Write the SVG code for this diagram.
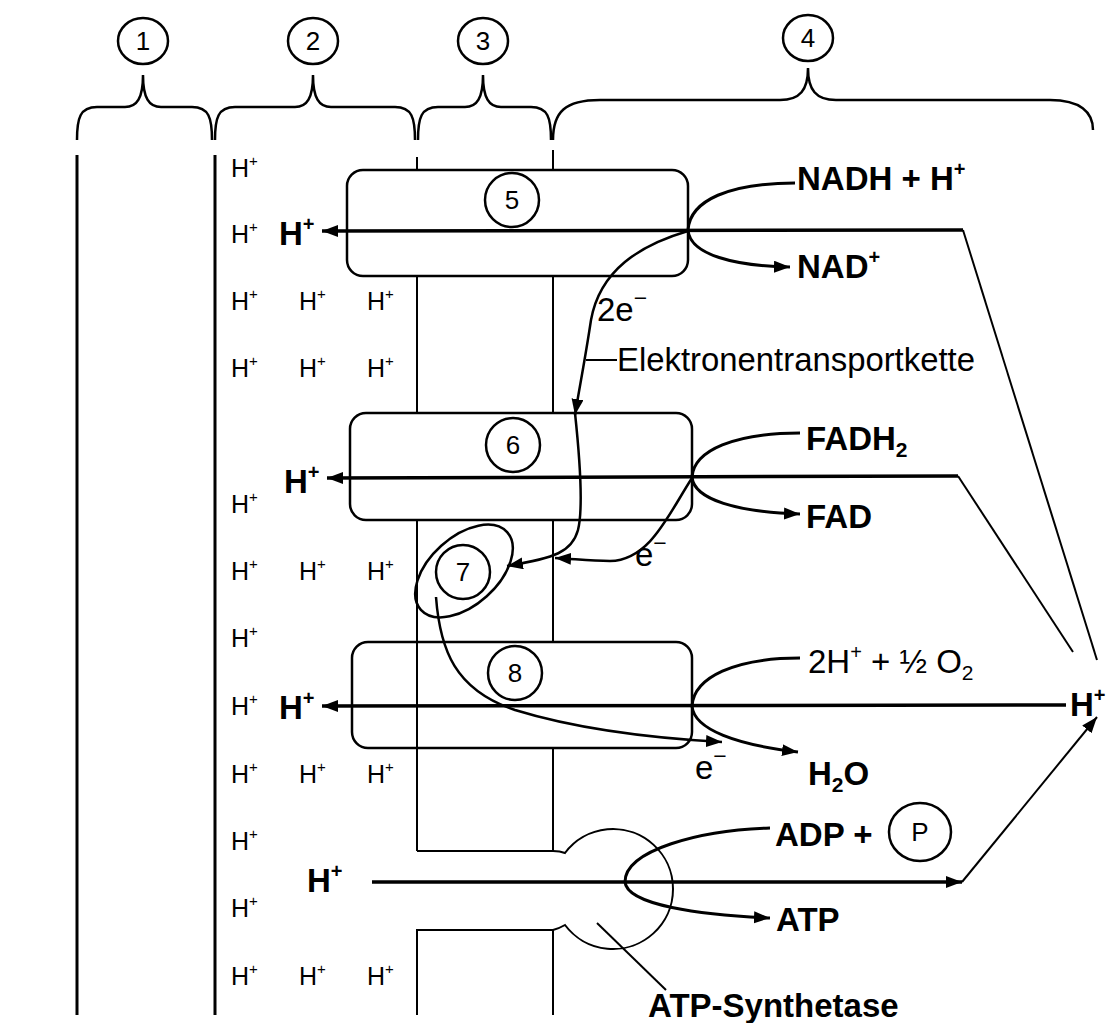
<svg xmlns="http://www.w3.org/2000/svg" width="1115" height="1023" viewBox="0 0 1115 1023">
<style>
text{font-family:"Liberation Sans",Arial,sans-serif;fill:#000}
.sm{font-size:25px}
.big{font-size:33px;font-weight:bold}
.lab{font-size:33px}
.b{font-weight:bold}
.num{font-size:26px;text-anchor:middle}
.ln{fill:none;stroke:#000;stroke-width:2.5}
.thin{fill:none;stroke:#000;stroke-width:2}
.thick{fill:none;stroke:#000;stroke-width:3.5}
.cur{fill:none;stroke:#000;stroke-width:3}
.box{fill:none;stroke:#000;stroke-width:2.5}
</style>
<defs>
<marker id="ah" markerUnits="userSpaceOnUse" markerWidth="18" markerHeight="14" refX="16" refY="6" orient="auto" viewBox="0 0 18 14">
<path d="M0,0 L16,6 L0,12 z" fill="#000"/>
</marker>
</defs>

<g id="brackets">
<path class="ln" d="M77,140 C77,118 80,107 97,107 L125,107 C137,107 143,98 143,75 C143,98 149,107 161,107 L192,107 C209,107 212,118 212,140"/>
<path class="ln" d="M215,140 C215,118 218,107 235,107 L295,107 C307,107 313,98 313,75 C313,98 319,107 331,107 L395,107 C412,107 415,118 415,140"/>
<path class="ln" d="M418,140 C418,118 421,107 438,107 L465,107 C477,107 483,98 483,75 C483,98 489,107 501,107 L531,107 C548,107 551,118 551,140"/>
<path class="ln" d="M553,140 C553,112 565,100 600,100 L780,100 C800,100 808,90 808,68 C808,90 816,100 836,100 L1050,100 C1080,100 1093,112 1093,130"/>
</g>

<g id="label1"><ellipse cx="143" cy="41" rx="25" ry="23" class="ln"/><text x="143" y="50" class="num">1</text></g>
<g id="label2"><ellipse cx="313" cy="41" rx="25" ry="23" class="ln"/><text x="313" y="50" class="num">2</text></g>
<g id="label3"><ellipse cx="483" cy="41" rx="25" ry="23" class="ln"/><text x="483" y="50" class="num">3</text></g>
<g id="label4"><ellipse cx="808" cy="38" rx="25" ry="23" class="ln"/><text x="808" y="47" class="num">4</text></g>

<g id="membranes">
<line x1="77" y1="155" x2="77" y2="1015" class="thick" style="stroke-width:3"/>
<line x1="215" y1="155" x2="215" y2="1015" class="thick" style="stroke-width:3"/>
<line x1="417" y1="157" x2="417" y2="170" class="thin"/>
<line x1="553" y1="150" x2="553" y2="170" class="thin"/>
<line x1="417" y1="276" x2="417" y2="413" class="thin"/>
<line x1="553" y1="276" x2="553" y2="413" class="thin"/>
<line x1="417" y1="520" x2="417" y2="851" class="thin"/>
<line x1="553" y1="520" x2="553" y2="642" class="thin"/>
<line x1="553" y1="748" x2="553" y2="851" class="thin"/>
<line x1="417" y1="851" x2="553" y2="851" class="thin"/>
<path class="thin" d="M417,1015 L417,930 L553,930 L553,1015"/>
</g>

<g id="complex5"><rect x="347" y="170" width="341" height="106" rx="16" class="box"/><circle cx="512" cy="200" r="27" class="ln"/><text x="512" y="209" class="num">5</text></g>
<g id="complex6"><rect x="350" y="413" width="342" height="107" rx="16" class="box"/><circle cx="513" cy="445" r="27" class="ln"/><text x="513" y="454" class="num">6</text></g>
<g id="complex7"><ellipse cx="464" cy="571" rx="58" ry="34" transform="rotate(-42 464 571)" class="ln"/><circle cx="463" cy="572" r="27" class="ln"/><text x="463" y="581" class="num">7</text></g>
<g id="complex8"><rect x="352" y="642" width="340" height="106" rx="16" class="box"/><circle cx="515" cy="673" r="27" class="ln"/><text x="515" y="682" class="num">8</text></g>
<g id="atpsynthase"><path class="thin" d="M553,851 Q560,851 565,853 A60,60 0 1 1 565,925 Q560,928 553,930"/></g>

<g id="protons">
<text class="sm" x="231" y="177">H<tspan font-size="15" dy="-11">+</tspan></text>
<text class="sm" x="231" y="243">H<tspan font-size="15" dy="-11">+</tspan></text>
<text class="sm" x="231" y="310">H<tspan font-size="15" dy="-11">+</tspan></text>
<text class="sm" x="299" y="310">H<tspan font-size="15" dy="-11">+</tspan></text>
<text class="sm" x="367" y="310">H<tspan font-size="15" dy="-11">+</tspan></text>
<text class="sm" x="231" y="377">H<tspan font-size="15" dy="-11">+</tspan></text>
<text class="sm" x="299" y="377">H<tspan font-size="15" dy="-11">+</tspan></text>
<text class="sm" x="367" y="377">H<tspan font-size="15" dy="-11">+</tspan></text>
<text class="sm" x="231" y="513">H<tspan font-size="15" dy="-11">+</tspan></text>
<text class="sm" x="231" y="580">H<tspan font-size="15" dy="-11">+</tspan></text>
<text class="sm" x="299" y="580">H<tspan font-size="15" dy="-11">+</tspan></text>
<text class="sm" x="367" y="580">H<tspan font-size="15" dy="-11">+</tspan></text>
<text class="sm" x="231" y="647">H<tspan font-size="15" dy="-11">+</tspan></text>
<text class="sm" x="231" y="715">H<tspan font-size="15" dy="-11">+</tspan></text>
<text class="sm" x="231" y="783">H<tspan font-size="15" dy="-11">+</tspan></text>
<text class="sm" x="299" y="783">H<tspan font-size="15" dy="-11">+</tspan></text>
<text class="sm" x="367" y="783">H<tspan font-size="15" dy="-11">+</tspan></text>
<text class="sm" x="231" y="850">H<tspan font-size="15" dy="-11">+</tspan></text>
<text class="sm" x="231" y="917">H<tspan font-size="15" dy="-11">+</tspan></text>
<text class="sm" x="231" y="985">H<tspan font-size="15" dy="-11">+</tspan></text>
<text class="sm" x="299" y="985">H<tspan font-size="15" dy="-11">+</tspan></text>
<text class="sm" x="367" y="985">H<tspan font-size="15" dy="-11">+</tspan></text>
<text class="big" x="279" y="245">H<tspan font-size="20" dy="-14">+</tspan></text>
<text class="big" x="284" y="493">H<tspan font-size="20" dy="-14">+</tspan></text>
<text class="big" x="279" y="719">H<tspan font-size="20" dy="-14">+</tspan></text>
<text class="big" x="307" y="892">H<tspan font-size="20" dy="-14">+</tspan></text>
<text class="big" x="1070" y="716">H<tspan font-size="20" dy="-14">+</tspan></text>
</g>

<g id="labels">
<text class="lab b" x="797" y="190">NADH + H<tspan font-size="20" dy="-14">+</tspan></text>
<text class="lab b" x="797" y="278">NAD<tspan font-size="20" dy="-14">+</tspan></text>
<text class="lab" x="597" y="321">2e<tspan font-size="23" dy="-15">−</tspan></text>
<text class="lab" x="617" y="371" textLength="358" lengthAdjust="spacingAndGlyphs">Elektronentransportkette</text>
<text class="lab b" x="806" y="450">FADH<tspan font-size="21" dy="7">2</tspan></text>
<text class="lab b" x="806" y="528">FAD</text>
<text class="lab" x="635" y="566">e<tspan font-size="23" dy="-15">−</tspan></text>
<text class="lab" x="808" y="673">2H<tspan font-size="20" dy="-14">+</tspan><tspan dy="14"> + ½ O</tspan><tspan font-size="21" dy="7">2</tspan></text>
<text class="lab b" x="808" y="785">H<tspan font-size="21" dy="7">2</tspan><tspan dy="-7">O</tspan></text>
<text class="lab" x="695" y="779">e<tspan font-size="23" dy="-15">−</tspan></text>
<text class="lab b" x="775" y="846">ADP +</text>
<text class="lab b" x="776" y="931">ATP</text>
<text class="lab b" x="648" y="1017">ATP-Synthetase</text>
</g>
<g id="phosphate"><ellipse cx="920" cy="832" rx="31" ry="29" class="ln"/><text x="920" y="841" class="num">P</text></g>

<g id="connectors">
<line x1="1097" y1="660" x2="963" y2="230" class="thin"/>
<path class="thick" d="M963,230 L322,231" marker-end="url(#ah)"/>
<line x1="1073" y1="652" x2="958" y2="476" class="thin"/>
<path class="thick" d="M958,476 L327,478" marker-end="url(#ah)"/>
<path class="thick" d="M1066,705 L322,706" marker-end="url(#ah)"/>
<path class="thick" d="M372,882 L962,882" marker-end="url(#ah)"/>
<path class="thin" d="M962,882 L1097,717" marker-end="url(#ah)"/>
<path class="cur" d="M795,183 C730,183 690,200 688,230 C690,255 735,266 790,267" marker-end="url(#ah)"/>
<path class="cur" d="M800,433 C735,433 694,450 692,477 C694,500 738,512 800,514" marker-end="url(#ah)"/>
<path class="cur" d="M800,658 C735,658 694,677 692,706 C694,730 738,745 798,752" marker-end="url(#ah)"/>
<path class="cur" d="M770,828 C700,830 625,850 625,882 C627,905 700,915 770,918" marker-end="url(#ah)"/>
<path class="thin" d="M688,231 C640,245 600,270 591,320 C585,360 579,390 575,415" marker-end="url(#ah)" style="stroke-width:2.5"/>
<path class="thin" d="M575,413 C580,460 583,510 578,530 C572,552 555,558 507,566" marker-end="url(#ah)" style="stroke-width:2.5"/>
<path class="thin" d="M692,478 C668,515 650,560 610,561 C590,561 575,559 555,558" marker-end="url(#ah)" style="stroke-width:2.5"/>
<path class="thin" d="M436,597 C440,650 455,690 515,710 C580,730 650,738 722,742" marker-end="url(#ah)" style="stroke-width:2.5"/>
<line x1="586" y1="360" x2="617" y2="360" class="thin"/>
<line x1="597" y1="923" x2="666" y2="990" class="thin"/>
</g>
</svg>
